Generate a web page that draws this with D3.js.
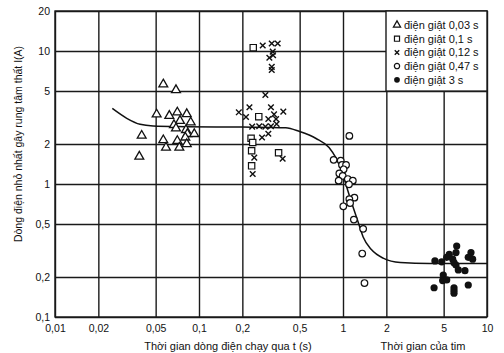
<!DOCTYPE html>
<html>
<head>
<meta charset="utf-8">
<script src="https://cdn.jsdelivr.net/npm/d3@7"></script>
<style>
  body { margin: 0; background: #fff; }
  text { font-family: "Liberation Sans", Arial, sans-serif; fill: #111; }
</style>
</head>
<body>
<div id="chart"></div>
<script>
// tick values
const xTicks = [0.01, 0.02, 0.05, 0.1, 0.2, 0.5, 1, 2, 5, 10];
const yTicks = [0.1, 0.2, 0.5, 1, 2, 5, 10, 20];

// measured points [t (s), I (A)]
const shock003 = [[0.0565,5.62],[0.0692,5.09],[0.0508,3.34],[0.0622,3.26],[0.0707,3.46],[0.0822,3.36],
  [0.0738,2.99],[0.0876,2.91],[0.067,2.78],[0.0692,2.62],[0.0812,2.55],[0.083,2.38],[0.0927,2.38],
  [0.04,2.31],[0.0803,2.24],[0.0565,2.14],[0.0707,2.11],[0.0822,2.0],[0.059,1.88],[0.073,1.88],[0.0385,1.61]];
const shock01 = [[0.238,10.6],[0.26,3.21],[0.23,2.21],[0.236,2.05],[0.232,1.78],[0.357,1.72],[0.232,1.37]];
const shock012 = [[0.277,11.0],[0.32,11.4],[0.352,11.4],[0.325,9.9],[0.327,9.3],[0.308,8.9],[0.32,7.6],
  [0.32,7.2],[0.289,4.67],[0.316,3.78],[0.224,3.78],[0.189,3.46],[0.385,3.5],[0.212,3.19],[0.332,3.34],
  [0.303,3.08],[0.343,3.08],[0.346,2.83],[0.234,2.7],[0.262,2.72],[0.289,2.7],[0.316,2.72],[0.274,2.24],
  [0.303,2.39],[0.242,1.58],[0.381,1.55],[0.236,1.19]];
const shock047 = [[1.107,2.3],[0.861,1.52],[0.964,1.5],[0.984,1.39],[1.05,1.39],[1.01,1.29],[0.943,1.2],
  [0.995,1.15],[0.933,1.06],[1.08,1.09],[1.17,1.06],[1.1,0.995],[1.2,0.79],[1.107,0.77],[1.12,0.72],
  [1.005,0.68],[1.19,0.54],[1.38,0.46],[1.36,0.3],[1.41,0.18]];
const shock3 = [[6.16,0.342],[5.47,0.296],[6.09,0.305],[7.74,0.305],[7.41,0.281],[7.95,0.272],[5.25,0.281],
  [5.78,0.272],[4.35,0.264],[4.85,0.26],[5.9,0.256],[6.09,0.246],[6.32,0.226],[7.03,0.223],[4.97,0.207],
  [4.92,0.188],[5.25,0.19],[7.41,0.174],[4.29,0.166],[5.9,0.166],[5.9,0.158],[5.9,0.151]];

// threshold curve
const curvePts = [[0.025,3.7],[0.0315,3.12],[0.039,2.81],[0.048,2.73],[0.08,2.7],[0.2,2.68],[0.4,2.65],
  [0.5,2.48],[0.65,2.2],[0.8,1.88],[0.9,1.55],[0.98,1.28],[1.06,0.955],[1.15,0.72],[1.28,0.51],
  [1.38,0.40],[1.58,0.32],[1.9,0.277],[2.5,0.257],[4,0.253],[10,0.253]];

const legendLabels = ["điện giật 0,03 s", "điện giật 0,1 s", "điện giật 0,12 s", "điện giật 0,47 s", "điện giật 3 s"];

const margin = {top: 11, right: 17, bottom: 36, left: 55},
      width = 504 - margin.left - margin.right,
      height = 353 - margin.top - margin.bottom;

const svg = d3.select("#chart")
    .append("svg")
    .attr("width", 504)
    .attr("height", 353)
    .append("g")
    .attr("transform", `translate(${margin.left},${margin.top})`);

const x = d3.scaleLog().domain([0.01, 10]).range([0, width]);
const y = d3.scaleLog().domain([0.1, 20]).range([height, 0]);
const fmt = d => String(d).replace(".", ",");

// grid + ticks
const gx = svg.append("g")
    .attr("transform", `translate(0,${height})`)
    .call(d3.axisBottom(x).tickValues(xTicks).tickFormat(fmt).tickSize(-height).tickPadding(8));
const gy = svg.append("g")
    .call(d3.axisLeft(y).tickValues(yTicks).tickFormat(fmt).tickSize(-width).tickPadding(5));

[gx, gy].forEach(g => {
    g.select(".domain").remove();
    g.selectAll("line").attr("stroke", "#1a1a1a").attr("stroke-width", 1.4);
    g.selectAll("text").style("font-size", "10.5px").attr("fill", "#222");
});
svg.append("rect")
    .attr("width", width).attr("height", height)
    .attr("fill", "none").attr("stroke", "#1a1a1a").attr("stroke-width", 1.4);

// legend box
const lg = svg.append("g").attr("transform", `translate(331,0)`);
lg.append("rect")
    .attr("width", width - 331)
    .attr("height", y(5))
    .attr("fill", "#fff").attr("stroke", "#1a1a1a").attr("stroke-width", 1.4);

// curve
svg.append("path")
    .datum(curvePts)
    .attr("fill", "none")
    .attr("stroke", "#111")
    .attr("stroke-width", 1.5)
    .attr("d", d3.line().x(d => x(d[0])).y(d => y(d[1])).curve(d3.curveMonotoneX));

// marker helpers
function drawMarker(sel, kind, s) {
    if (kind === "tri") {
        sel.append("path").attr("d", d3.symbol(d3.symbolTriangle, 34 * s * s)())
            .attr("fill", "#fff").attr("stroke", "#111").attr("stroke-width", 1.3);
    } else if (kind === "sq") {
        sel.append("path").attr("d", d3.symbol(d3.symbolSquare, 40 * s * s)())
            .attr("fill", "#fff").attr("stroke", "#111").attr("stroke-width", 1.2);
    } else if (kind === "x") {
        const r = 2.8 * s;
        sel.append("path").attr("d", `M${-r},${-r}L${r},${r}M${-r},${r}L${r},${-r}`)
            .attr("stroke", "#111").attr("stroke-width", 1.4);
    } else if (kind === "o") {
        sel.append("circle").attr("r", 3.3 * s)
            .attr("fill", "#fff").attr("stroke", "#111").attr("stroke-width", 1.2);
    } else {
        sel.append("circle").attr("r", 3.6 * s).attr("fill", "#111");
    }
}

const groups = [[shock003, "tri"], [shock01, "sq"], [shock012, "x"], [shock047, "o"], [shock3, "dot"]];
groups.forEach(([data, kind]) => {
    svg.selectAll(".m-" + kind)
        .data(data)
        .enter()
        .append("g")
        .attr("class", "m-" + kind)
        .attr("transform", d => `translate(${x(d[0])},${y(d[1])})`)
        .each(function () { drawMarker(d3.select(this), kind, 1); });
});

// legend entries
const item = lg.selectAll(".legend")
    .data(legendLabels)
    .enter().append("g")
    .attr("class", "legend")
    .attr("transform", (d, i) => `translate(11,${14 + i * 13.7})`);
item.each(function (d, i) { drawMarker(d3.select(this), groups[i][1], 0.8); });
item.append("text")
    .attr("x", 7)
    .attr("y", 4)
    .style("font-size", "11px")
    .text(d => d);

// axis titles
svg.append("text")
    .attr("x", 228 - margin.left)
    .attr("y", height + 33)
    .attr("text-anchor", "middle")
    .style("font-size", "11px")
    .text("Thời gian dòng điện chạy qua t (s)");
svg.append("text")
    .attr("x", 423 - margin.left)
    .attr("y", height + 33)
    .attr("text-anchor", "middle")
    .style("font-size", "11px")
    .text("Thời gian của tim");
svg.append("text")
    .attr("transform", `translate(${-33},${144 - margin.top}) rotate(-90)`)
    .attr("text-anchor", "middle")
    .style("font-size", "10.5px")
    .text("Dòng điện nhỏ nhất gây rung tâm thất I(A)");
</script>
</body>
</html>
